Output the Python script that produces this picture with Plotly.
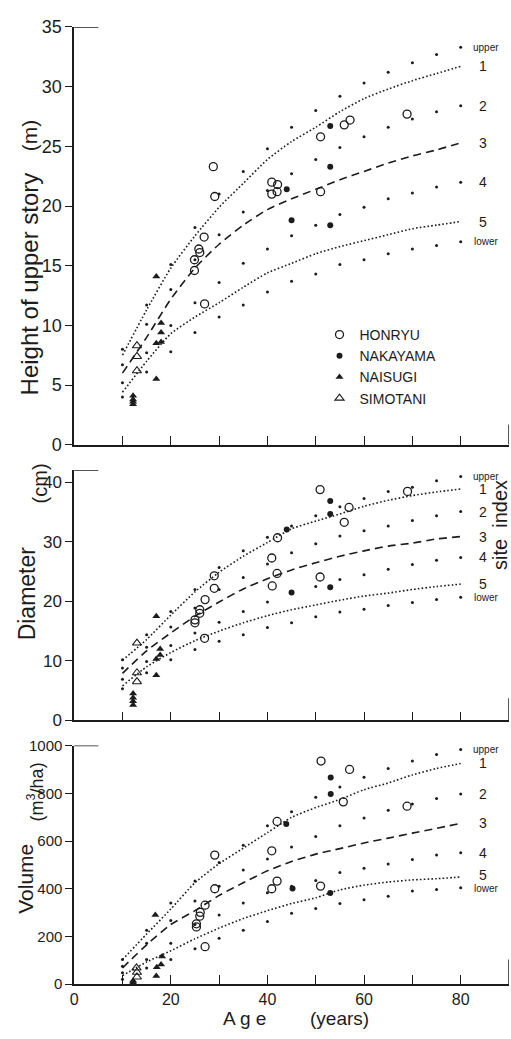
import plotly.graph_objects as go

W, H = 511, 1039
FONT = "Liberation Sans, Arial, sans-serif"
INK = "#1c1c1c"

# ---------------- data ----------------
AGES = [10, 15, 20, 25, 30, 35, 40, 45, 50, 55, 60, 65, 70, 75, 80]

# Height of upper story (m)
H_UPPER = [8.0, 11.7, 15.1, 18.2, 21.0, 22.9, 24.8, 26.6, 28.0, 29.2, 30.3, 31.2, 32.0, 32.7, 33.3]
H_B2 = [6.7, 10.1, 13.0, 15.5, 17.6, 19.5, 21.3, 22.7, 23.9, 24.9, 25.8, 26.6, 27.3, 27.9, 28.4]
H_B4 = [5.2, 7.7, 10.0, 11.9, 13.6, 15.2, 16.4, 17.5, 18.4, 19.3, 19.9, 20.6, 21.1, 21.6, 22.0]
H_LOWER = [4.0, 6.1, 7.8, 9.4, 10.7, 11.7, 12.8, 13.7, 14.3, 15.1, 15.5, 16.0, 16.4, 16.7, 17.0]
H_C1 = [7.5, 11.3, 14.8, 17.5, 19.9, 21.9, 23.9, 25.4, 26.6, 27.9, 29.0, 29.8, 30.5, 31.1, 31.7]
H_C3 = [6.0, 9.0, 12.2, 14.8, 16.8, 18.4, 19.7, 20.6, 21.4, 22.2, 22.9, 23.6, 24.2, 24.7, 25.3]
H_C5 = [4.4, 7.0, 9.3, 10.7, 11.9, 13.2, 14.4, 15.2, 16.0, 16.6, 17.1, 17.6, 18.1, 18.4, 18.7]

H_HONRYU_AGE = [28.8, 29.1, 26.9, 25.8, 26.0, 24.9, 24.9, 27.0, 40.9, 42.1, 40.9, 42.0, 51.0, 51.0, 55.9, 57.1, 68.9]
H_HONRYU = [23.3, 20.8, 17.4, 16.4, 16.1, 15.5, 14.6, 11.8, 22.0, 21.8, 21.0, 21.2, 25.8, 21.2, 26.8, 27.2, 27.7]
H_NAKAYAMA_AGE = [53.0, 53.0, 44.0, 45.0, 53.0]
H_NAKAYAMA = [26.7, 23.3, 21.4, 18.8, 18.4]
H_NAISUGI_AGE = [17.0, 18.0, 18.0, 17.0, 18.0, 17.0, 12.2, 12.2, 12.2, 12.2]
H_NAISUGI = [14.1, 10.2, 9.4, 8.5, 8.6, 5.5, 4.1, 3.8, 3.6, 3.4]
H_SIMOTANI_AGE = [13.0, 13.0, 13.0]
H_SIMOTANI = [8.3, 7.4, 6.2]

# Diameter (cm)
D_UPPER = [10.2, 14.4, 18.3, 22.0, 25.7, 28.5, 30.8, 32.7, 34.4, 35.9, 37.3, 38.5, 39.2, 40.3, 41.0]
D_B2 = [8.8, 12.3, 15.7, 18.9, 22.0, 24.0, 26.3, 28.2, 29.7, 31.0, 31.9, 32.7, 33.6, 34.4, 35.1]
D_B4 = [6.9, 9.9, 12.6, 14.7, 16.5, 18.3, 19.9, 21.6, 22.5, 23.7, 24.5, 25.4, 26.2, 26.9, 27.4]
D_LOWER = [5.3, 8.0, 10.2, 11.9, 13.3, 14.4, 15.6, 16.4, 17.4, 18.2, 18.7, 19.3, 19.8, 20.3, 20.7]
D_C1 = [10.1, 13.6, 17.7, 21.6, 24.9, 27.6, 29.9, 32.2, 33.5, 34.7, 36.0, 37.0, 37.8, 38.4, 38.9]
D_C3 = [7.9, 11.7, 14.7, 17.5, 19.9, 22.1, 23.8, 25.3, 26.5, 27.6, 28.5, 29.3, 29.8, 30.5, 30.9]
D_C5 = [5.8, 9.0, 11.4, 13.4, 15.0, 16.4, 17.6, 18.6, 19.4, 20.2, 20.9, 21.4, 22.0, 22.5, 22.9]

D_HONRYU_AGE = [50.9, 56.9, 55.9, 69.0, 42.1, 40.9, 42.0, 41.0, 50.9, 29.0, 29.0, 27.1, 26.0, 26.0, 25.0, 25.0, 27.0]
D_HONRYU = [38.8, 35.8, 33.3, 38.5, 30.7, 27.3, 24.7, 22.6, 24.1, 24.3, 22.2, 20.3, 18.6, 18.0, 16.9, 16.4, 13.8]
D_NAKAYAMA_AGE = [53.0, 53.0, 44.0, 45.0, 53.0]
D_NAKAYAMA = [36.9, 34.7, 32.1, 21.5, 22.4]
D_NAISUGI_AGE = [17.0, 17.8, 17.8, 17.0, 17.0, 12.2, 12.2, 12.2, 12.2]
D_NAISUGI = [17.5, 12.0, 11.0, 10.3, 7.6, 4.5, 3.8, 3.2, 2.6]
D_SIMOTANI_AGE = [13.0, 13.0, 13.0]
D_SIMOTANI = [13.0, 8.0, 6.5]

# Volume (m3/ha)
V_UPPER = [103, 226, 340, 432, 510, 582, 664, 723, 783, 826, 867, 904, 935, 963, 983]
V_B2 = [75, 172, 267, 349, 410, 479, 525, 575, 619, 664, 696, 729, 755, 778, 797]
V_B4 = [48, 103, 171, 250, 290, 340, 383, 410, 435, 468, 486, 504, 523, 541, 551]
V_LOWER = [21, 68, 103, 148, 192, 226, 263, 297, 317, 338, 354, 368, 390, 397, 404]
V_C1 = [103, 210, 315, 425, 505, 570, 635, 699, 740, 774, 815, 843, 877, 904, 925]
V_C3 = [68, 165, 250, 308, 372, 425, 475, 514, 545, 568, 592, 612, 633, 653, 674]
V_C5 = [36, 93, 140, 190, 235, 275, 308, 338, 362, 395, 415, 428, 437, 442, 449]

V_HONRYU_AGE = [51.1, 57.0, 55.7, 68.9, 42.0, 40.9, 51.0, 42.0, 40.9, 29.1, 29.1, 27.1, 26.1, 26.0, 25.3, 25.3, 27.1]
V_HONRYU = [935, 900, 764, 746, 682, 559, 411, 432, 400, 541, 400, 331, 301, 285, 253, 240, 157]
V_NAKAYAMA_AGE = [53.1, 53.1, 43.9, 45.2, 53.0]
V_NAKAYAMA = [866, 797, 671, 401, 382]
V_NAISUGI_AGE = [16.8, 18.2, 18.0, 17.1, 17.0, 12.2, 12.2]
V_NAISUGI = [290, 116, 82, 71, 34, 14, 7]
V_SIMOTANI_AGE = [12.9, 13.0, 13.0]
V_SIMOTANI = [68, 50, 30]

SITE_LABELS = ["upper", "1", "2", "3", "4", "5", "lower"]
X_TICKS = [0, 20, 40, 60, 80]

# ---------------- layout geometry (pixels) ----------------
def px_x(p):
    return p / W

def px_y(p):
    return 1 - p / H

X_DOM = [px_x(70.7), px_x(509)]
PANELS = [
    dict(dom=[px_y(443.3), px_y(17.3)], rng=[0, 35], dtick=5, tfs=18, stub=1.7),
    dict(dom=[px_y(724.3), px_y(469)], rng=[0, 42.1], dtick=10, tfs=17, stub=3.7),
    dict(dom=[px_y(993.3), px_y(750)], rng=[0, 1000], dtick=200, tfs=15, stub=103),
]
LABEL_SHIFT = {"5": 2, "lower": -1}

fig = go.Figure()

SETS = [
    (H_UPPER, H_B2, H_B4, H_LOWER, H_C1, H_C3, H_C5,
     (H_HONRYU_AGE, H_HONRYU), (H_NAKAYAMA_AGE, H_NAKAYAMA),
     (H_NAISUGI_AGE, H_NAISUGI), (H_SIMOTANI_AGE, H_SIMOTANI)),
    (D_UPPER, D_B2, D_B4, D_LOWER, D_C1, D_C3, D_C5,
     (D_HONRYU_AGE, D_HONRYU), (D_NAKAYAMA_AGE, D_NAKAYAMA),
     (D_NAISUGI_AGE, D_NAISUGI), (D_SIMOTANI_AGE, D_SIMOTANI)),
    (V_UPPER, V_B2, V_B4, V_LOWER, V_C1, V_C3, V_C5,
     (V_HONRYU_AGE, V_HONRYU), (V_NAKAYAMA_AGE, V_NAKAYAMA),
     (V_NAISUGI_AGE, V_NAISUGI), (V_SIMOTANI_AGE, V_SIMOTANI)),
]

SERIES_STYLE = [
    ("HONRYU", dict(symbol="circle-open", size=8, color=INK, line=dict(width=1.3, color=INK))),
    ("NAKAYAMA", dict(symbol="circle", size=6, color=INK)),
    ("NAISUGI", dict(symbol="triangle-up", size=7, color=INK)),
    ("SIMOTANI", dict(symbol="triangle-up-open", size=8, color=INK, line=dict(width=1.1, color=INK))),
]

annotations = []
shapes = []

for i, (s, p) in enumerate(zip(SETS, PANELS)):
    n = i + 1
    xa = "x" if n == 1 else f"x{n}"
    ya = "y" if n == 1 else f"y{n}"
    upper, b2, b4, lower, c1, c3, c5 = s[:7]
    # boundary dots
    for arr in (upper, b2, b4, lower):
        fig.add_trace(go.Scatter(x=AGES, y=arr, mode="markers", xaxis=xa, yaxis=ya,
                                 marker=dict(size=3, color=INK), showlegend=False,
                                 hoverinfo="skip"))
    # site-index curves
    for arr, dash in ((c1, "1.6px,2.2px"), (c3, "8px,5px"), (c5, "1.6px,2.2px")):
        fig.add_trace(go.Scatter(x=AGES, y=arr, mode="lines", xaxis=xa, yaxis=ya,
                                 line=dict(color=INK, width=1.6, dash=dash, shape="spline",
                                           smoothing=0.6),
                                 showlegend=False, hoverinfo="skip"))
    # observed stands
    for (name, mk), (ax, ay) in zip(SERIES_STYLE, s[7:]):
        fig.add_trace(go.Scatter(x=ax, y=ay, mode="markers", xaxis=xa, yaxis=ya, name=name,
                                 marker=mk, showlegend=(n == 1), legendgroup=name))

    # frame remnants: short top stub and short right stub
    shapes.append(dict(type="line", xref=xa, yref=ya, x0=0, x1=5, y0=p["rng"][1], y1=p["rng"][1],
                       line=dict(color=INK, width=1.5)))
    shapes.append(dict(type="line", xref=xa, yref=ya, x0=90, x1=90, y0=0, y1=p["stub"],
                       line=dict(color=INK, width=1.5)))

    # right-hand site index labels
    level_vals = [upper[-1], c1[-1], b2[-1], c3[-1], b4[-1], c5[-1], lower[-1]]
    for lab, v in zip(SITE_LABELS, level_vals):
        small = lab in ("upper", "lower")
        annotations.append(dict(x=85.3 if small else 84.7, y=v, xref=xa, yref=ya, text=lab,
                                showarrow=False, xanchor="center", yanchor="middle",
                                yshift=LABEL_SHIFT.get(lab, 0) if n == 3 else 0,
                                font=dict(family=FONT, size=10 if small else 14, color=INK)))

    xaxis = dict(domain=X_DOM, range=[0, 90], anchor=ya, showline=True, linecolor=INK,
                 linewidth=1.5, ticks="inside", ticklen=9, tickwidth=1.3, tickcolor=INK,
                 tickvals=X_TICKS, showticklabels=(n == 3),
                 minor=dict(ticks="inside", ticklen=9, tickwidth=1.3, tickcolor=INK, dtick=10,
                            tick0=0, showgrid=False),
                 tickfont=dict(family=FONT, size=16, color=INK), showgrid=False, zeroline=False)
    yaxis = dict(domain=p["dom"], range=p["rng"], anchor=xa, showline=True, linecolor=INK,
                 linewidth=1.5, ticks="outside", ticklen=7, tickwidth=1.3, tickcolor=INK,
                 dtick=p["dtick"], tick0=0, tickfont=dict(family=FONT, size=p["tfs"], color=INK),
                 showgrid=False, zeroline=False)
    fig.update_layout(**{("xaxis" if n == 1 else f"xaxis{n}"): xaxis,
                         ("yaxis" if n == 1 else f"yaxis{n}"): yaxis})

def ptext(text, x, y, size, angle=0):
    annotations.append(dict(x=px_x(x), y=px_y(y), xref="paper", yref="paper", text=text,
                            showarrow=False, textangle=angle, xanchor="center", yanchor="middle",
                            font=dict(family=FONT, size=size, color=INK)))

# axis titles
ptext("Height of upper story", 26, 279, 24, -90)
ptext("(m)", 26, 128, 21, -90)
ptext("Diameter", 23, 595, 23, -90)
ptext("(cm)", 36, 483, 20, -90)
ptext("Volume", 22, 886, 21, -90)
ptext("(m<sup>3</sup>/ha)", 32, 797, 18, -90)
ptext("site  index", 500, 525, 20, -90)
ptext("A g e", 242, 1028, 19)
ptext("(years)", 338, 1028, 19)

fig.update_layout(
    width=W, height=H, margin=dict(l=0, r=0, t=0, b=0),
    paper_bgcolor="white", plot_bgcolor="white",
    annotations=annotations, shapes=shapes,
    legend=dict(x=px_x(318), y=px_y(315), xanchor="left", yanchor="top",
                bgcolor="rgba(0,0,0,0)", borderwidth=0, itemwidth=30, tracegroupgap=0,
                font=dict(family=FONT, size=14, color=INK)),
)

fig.write_html("out.html", config={"displayModeBar": False},
               post_script="document.body.style.margin='0px';"
                           "document.body.style.overflow='hidden';")
